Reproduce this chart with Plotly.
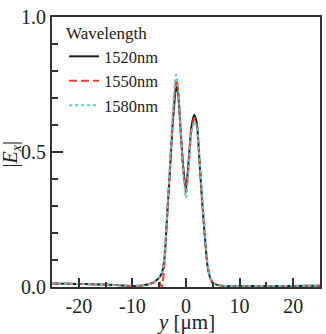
import plotly.graph_objects as go

# position y (um)
y_black = [-25, -22, -19, -16, -13, -10, -8, -7, -6, -5, -4.5, -4, -3.5, -3, -2.5, -2, -1.85, -1.5, -1, -0.5, 0, 0.5, 1, 1.5, 2, 2.5, 3, 3.5, 4, 4.5, 5, 6, 7, 10, 15, 20, 25]
e_1520 = [0.013, 0.012, 0.011, 0.009, 0.007, 0.004, 0.006, 0.010, 0.018, 0.035, 0.052, 0.11, 0.27, 0.43, 0.60, 0.72, 0.743, 0.72, 0.58, 0.44, 0.36, 0.47, 0.59, 0.638, 0.61, 0.47, 0.32, 0.19, 0.08, 0.035, 0.015, 0.007, 0.004, 0.003, 0.004, 0.004, 0.005]

y_red = [-25, -22, -19, -16, -13, -10, -8, -7, -6, -5, -4.5, -4, -3.5, -3, -2.5, -2, -1.8, -1.5, -1, -0.5, 0, 0.5, 1, 1.6, 2, 2.5, 3, 3.5, 4, 4.5, 5, 6, 7, 10, 15, 20, 25]
e_1550 = [0.013, 0.012, 0.011, 0.009, 0.007, 0.004, 0.006, 0.010, 0.016, 0.02, 0.0, 0.09, 0.27, 0.44, 0.61, 0.745, 0.768, 0.74, 0.58, 0.43, 0.35, 0.45, 0.58, 0.626, 0.60, 0.48, 0.33, 0.20, 0.085, 0.035, 0.015, 0.007, 0.004, 0.003, 0.004, 0.004, 0.005]

y_cyan = [-25, -22, -19, -16, -13, -10, -8, -7, -6, -5, -4.5, -4, -3.5, -3, -2.5, -2, -1.85, -1.5, -1, -0.5, 0, 0.5, 1, 1.6, 2, 2.5, 3, 3.5, 4, 4.5, 5, 6, 7, 10, 15, 20, 25]
e_1580 = [0.013, 0.012, 0.011, 0.009, 0.007, 0.004, 0.006, 0.010, 0.018, 0.035, 0.052, 0.11, 0.28, 0.45, 0.63, 0.77, 0.787, 0.75, 0.58, 0.42, 0.33, 0.44, 0.57, 0.613, 0.59, 0.48, 0.34, 0.21, 0.09, 0.037, 0.015, 0.007, 0.004, 0.003, 0.004, 0.004, 0.005]

names = ["1520nm", "1550nm", "1580nm"]
colors = ["#222222", "#e8432e", "#5ec8d0"]
dashes = ["solid", "8px,4px", "3px,3px"]

fig = go.Figure()
for xs, ys, n, c, d in zip([y_black, y_red, y_cyan], [e_1520, e_1550, e_1580], names, colors, dashes):
    fig.add_trace(go.Scatter(x=xs, y=ys, mode="lines", name=n,
                             line=dict(color=c, width=2, dash=d, shape="spline", smoothing=0.6)))

ff = "Liberation Serif"
fig.update_layout(
    width=326, height=334,
    margin=dict(l=52, r=4, t=17, b=47),
    plot_bgcolor="white", paper_bgcolor="white",
    font=dict(family=ff, size=19, color="#222"),
    showlegend=True,
    legend=dict(
        x=0.045, y=1.0, xanchor="left", yanchor="top",
        bgcolor="rgba(0,0,0,0)", borderwidth=0,
        font=dict(family=ff, size=16.5, color="#222"),
        title=dict(text="Wavelength", side="top", font=dict(family=ff, size=17, color="#222")),
        tracegroupgap=0, itemwidth=30,
    ),
    xaxis=dict(
        range=[-25, 25], tickvals=[-20, -10, 0, 10, 20], ticktext=["-20", "-10", "0", "10", "20"],
        ticks="inside", ticklen=9, tickwidth=1.5, tickcolor="#333",
        minor=dict(tickvals=[-15, -5, 5, 15], ticks="inside", ticklen=5, tickwidth=1.5, tickcolor="#333"),
        showline=True, linewidth=2, linecolor="#333", mirror=True,
        showgrid=False, zeroline=False,
        tickfont=dict(family=ff, size=20),
    ),
    yaxis=dict(
        range=[0, 1], tickvals=[0, 0.5, 1.0], ticktext=["0.0", "0.5", "1.0"],
        ticks="inside", ticklen=11, tickwidth=1.5, tickcolor="#333",
        minor=dict(tickvals=[0.1, 0.2, 0.3, 0.4, 0.6, 0.7, 0.8, 0.9], ticks="inside", ticklen=6, tickwidth=1.5, tickcolor="#333"),
        showline=True, linewidth=2, linecolor="#333", mirror=True,
        showgrid=False, zeroline=False,
        tickfont=dict(family=ff, size=20),
    ),
    annotations=[
        dict(text="|<i>E</i><sub><i>x</i></sub>|", xref="paper", yref="paper", x=-0.15, y=0.49,
             xanchor="center", yanchor="middle",
             showarrow=False, textangle=-90, font=dict(family=ff, size=20, color="#222")),
        dict(text="<i>y</i> [μm]", xref="paper", yref="paper", x=0.5, y=-0.13,
             xanchor="center", yanchor="middle",
             showarrow=False, font=dict(family=ff, size=21, color="#222")),
    ],
)

fig.write_html("out.html")
